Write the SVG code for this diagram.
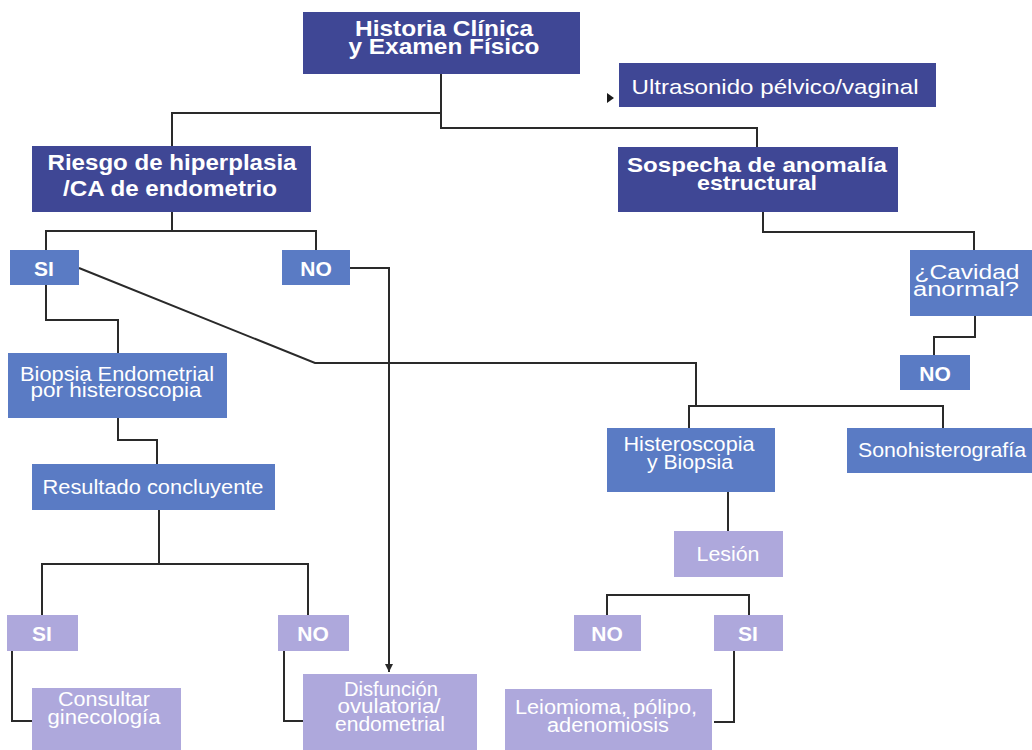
<svg xmlns="http://www.w3.org/2000/svg" width="1032" height="750" viewBox="0 0 1032 750">
<defs>
<style>
.dk{fill:#3f4795}
.md{fill:#5a7bc4}
.lv{fill:#aea8dc}
.t{font-family:"Liberation Sans",Arial,sans-serif;fill:#ffffff;text-anchor:middle}
.b{font-weight:bold}
.ln{fill:none;stroke:#2a2a2a;stroke-width:2}
</style>
<marker id="ah" markerWidth="10" markerHeight="10" refX="8" refY="4" orient="auto" markerUnits="userSpaceOnUse">
<path d="M0,0 L8,4 L0,8 Z" fill="#2a2a2a"/>
</marker>
</defs>
<rect width="1032" height="750" fill="#ffffff"/>
<g id="connectors">
<path class="ln" d="M441,74 V113 H172 V146"/>
<path class="ln" d="M441,113 V128 H757 V147"/>
<path class="ln" d="M172,212 V231 H46 V250"/>
<path class="ln" d="M172,231 H316 V250"/>
<path class="ln" d="M763,212 V232 H974 V250"/>
<path class="ln" d="M975,316 V337 H934 V355"/>
<path class="ln" d="M46,285 V320 H118 V353"/>
<path class="ln" d="M118,418 V440 H157 V464"/>
<path class="ln" d="M79,268 L315,363 H696 V406"/>
<path class="ln" d="M689,428 V406 H943 V428"/>
<path class="ln" d="M350,268 H389 V672" marker-end="url(#ah)"/>
<path class="ln" d="M728,492 V531"/>
<path class="ln" d="M159,510 V564 H42 V615"/>
<path class="ln" d="M159,564 H308 V615"/>
<path class="ln" d="M12,651 V721 H32"/>
<path class="ln" d="M284,651 V721 H303"/>
<path class="ln" d="M607,615 V595 H749 V615"/>
<path class="ln" d="M734,651 V722 H714"/>
<path d="M607,93 L614,98 L607,103 Z" fill="#1a1a1a"/>
</g>
<g id="historia"><rect class="dk" x="303" y="12" width="277" height="62"/>
<text class="t b" font-size="22" x="444" y="36" textLength="178" lengthAdjust="spacingAndGlyphs">Historia Clínica</text>
<text class="t b" font-size="22" x="444" y="54" textLength="191" lengthAdjust="spacingAndGlyphs">y Examen Físico</text></g>
<g id="ultrasonido"><rect class="dk" x="619" y="63" width="317" height="44"/>
<text class="t" font-size="21" x="775" y="94" textLength="287" lengthAdjust="spacingAndGlyphs">Ultrasonido pélvico/vaginal</text></g>
<g id="riesgo"><rect class="dk" x="32" y="146" width="279" height="66"/>
<text class="t b" font-size="22" x="172" y="170" textLength="249" lengthAdjust="spacingAndGlyphs">Riesgo de hiperplasia</text>
<text class="t b" font-size="22" x="170" y="196" textLength="214" lengthAdjust="spacingAndGlyphs">/CA de endometrio</text></g>
<g id="sospecha"><rect class="dk" x="618" y="147" width="280" height="65"/>
<text class="t b" font-size="21" x="757" y="172" textLength="260" lengthAdjust="spacingAndGlyphs">Sospecha de anomalía</text>
<text class="t b" font-size="21" x="757" y="190" textLength="120" lengthAdjust="spacingAndGlyphs">estructural</text></g>
<g id="si1"><rect class="md" x="10" y="250" width="69" height="35"/>
<text class="t b" font-size="21" x="44" y="276">SI</text></g>
<g id="no1"><rect class="md" x="282" y="250" width="68" height="35"/>
<text class="t b" font-size="21" x="316" y="276">NO</text></g>
<g id="cavidad"><rect class="md" x="910" y="250" width="122" height="66"/>
<text class="t" font-size="20" x="967" y="279" textLength="105" lengthAdjust="spacingAndGlyphs">¿Cavidad</text>
<text class="t" font-size="20" x="966" y="296" textLength="106" lengthAdjust="spacingAndGlyphs">anormal?</text></g>
<g id="no2"><rect class="md" x="900" y="355" width="70" height="35"/>
<text class="t b" font-size="21" x="935" y="381">NO</text></g>
<g id="biopsia"><rect class="md" x="8" y="353" width="219" height="65"/>
<text class="t" font-size="20" x="117" y="381" textLength="194" lengthAdjust="spacingAndGlyphs">Biopsia Endometrial</text>
<text class="t" font-size="20" x="116" y="397" textLength="171" lengthAdjust="spacingAndGlyphs">por histeroscopia</text></g>
<g id="resultado"><rect class="md" x="32" y="464" width="243" height="46"/>
<text class="t" font-size="20" x="153" y="494" textLength="221" lengthAdjust="spacingAndGlyphs">Resultado concluyente</text></g>
<g id="histeroscopia"><rect class="md" x="607" y="428" width="168" height="64"/>
<text class="t" font-size="20" x="689" y="451" textLength="131" lengthAdjust="spacingAndGlyphs">Histeroscopia</text>
<text class="t" font-size="20" x="690" y="469" textLength="86" lengthAdjust="spacingAndGlyphs">y Biopsia</text></g>
<g id="sonohisterografia"><rect class="md" x="847" y="428" width="185" height="45"/>
<text class="t" font-size="20" x="942" y="457" textLength="168" lengthAdjust="spacingAndGlyphs">Sonohisterografía</text></g>
<g id="lesion"><rect class="lv" x="674" y="531" width="109" height="46"/>
<text class="t" font-size="20" x="728" y="561" textLength="63" lengthAdjust="spacingAndGlyphs">Lesión</text></g>
<g id="si3"><rect class="lv" x="7" y="615" width="71" height="36"/>
<text class="t b" font-size="21" x="42" y="641">SI</text></g>
<g id="no3"><rect class="lv" x="278" y="615" width="71" height="36"/>
<text class="t b" font-size="21" x="313" y="641">NO</text></g>
<g id="no4"><rect class="lv" x="574" y="615" width="67" height="36"/>
<text class="t b" font-size="21" x="607" y="641">NO</text></g>
<g id="si4"><rect class="lv" x="714" y="615" width="69" height="36"/>
<text class="t b" font-size="21" x="748" y="641">SI</text></g>
<g id="consultar"><rect class="lv" x="32" y="688" width="149" height="62"/>
<text class="t" font-size="20" x="104" y="706" textLength="92" lengthAdjust="spacingAndGlyphs">Consultar</text>
<text class="t" font-size="20" x="104" y="724" textLength="113" lengthAdjust="spacingAndGlyphs">ginecología</text></g>
<g id="disfuncion"><rect class="lv" x="303" y="674" width="174" height="76"/>
<text class="t" font-size="20" x="391" y="696" textLength="94" lengthAdjust="spacingAndGlyphs">Disfunción</text>
<text class="t" font-size="20" x="389" y="713" textLength="103" lengthAdjust="spacingAndGlyphs">ovulatoria/</text>
<text class="t" font-size="20" x="390" y="731" textLength="110" lengthAdjust="spacingAndGlyphs">endometrial</text></g>
<g id="leiomioma"><rect class="lv" x="505" y="689" width="207" height="61"/>
<text class="t" font-size="20" x="606" y="714" textLength="182" lengthAdjust="spacingAndGlyphs">Leiomioma, pólipo,</text>
<text class="t" font-size="20" x="608" y="732" textLength="122" lengthAdjust="spacingAndGlyphs">adenomiosis</text></g>
</svg>
